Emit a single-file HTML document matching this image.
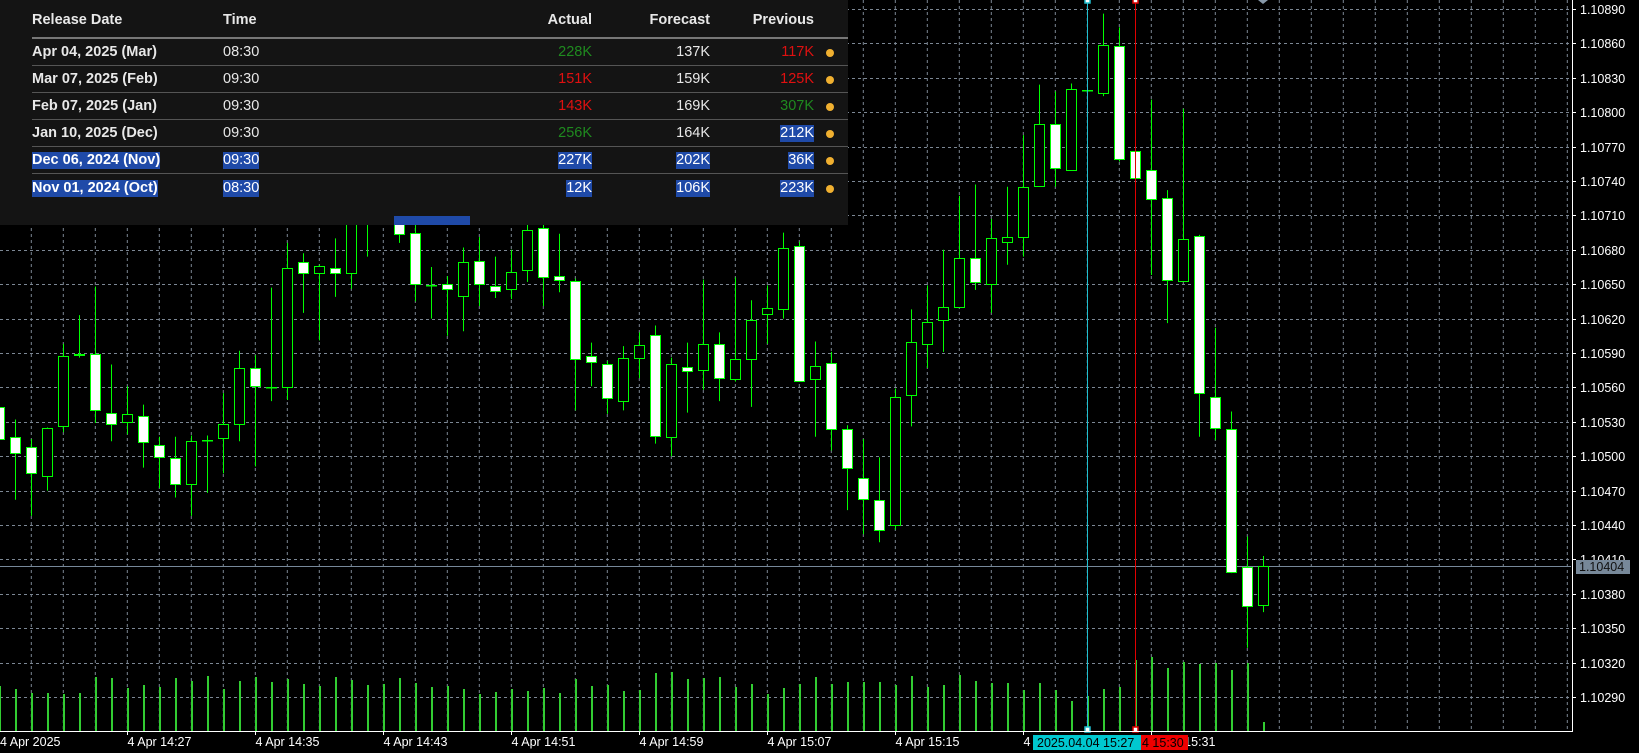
<!DOCTYPE html>
<html><head><meta charset="utf-8"><style>
html,body{margin:0;padding:0;background:#000;width:1639px;height:753px;overflow:hidden}
#wrap{position:relative;width:1639px;height:753px;font-family:"Liberation Sans",sans-serif}
#chart{position:absolute;left:0;top:0}
#panel{position:absolute;left:0;top:0;width:848px;height:225px;background:#141414;color:#e8e8e8;font-size:14.5px}
.c{position:absolute;white-space:nowrap;line-height:17px}
.h{font-weight:bold;top:12px}
.b{font-weight:bold}
.r{text-align:right}
.sel{background:#1f4aa8;color:#fff}
.g{color:#1f8a1f}.rd{color:#e01010}
.dot{position:absolute;width:8px;height:8px;border-radius:50%;background:#f0b030}
.sep{position:absolute;left:32px;width:816px;height:1px;background:#555}
</style></head><body>
<div id="wrap">
<svg id="chart" width="1639" height="753"></svg>
<div id="panel">
  <div class="c h" style="left:32px">Release Date</div>
  <div class="c h" style="left:223px">Time</div>
  <div class="c h r" style="right:256px">Actual</div>
  <div class="c h r" style="right:138px">Forecast</div>
  <div class="c h r" style="right:34px">Previous</div>
  <div class="sep" style="top:37px;height:2px;background:#777"></div>

  <div>
  <div class="c b" style="left:32px;top:44px">Apr 04, 2025 (Mar)</div><div class="c" style="left:223px;top:44px">08:30</div>
  <div class="c r g" style="right:256px;top:44px">228K</div><div class="c r" style="right:138px;top:44px">137K</div><div class="c r rd" style="right:34px;top:44px">117K</div>
  <div class="dot" style="left:826px;top:49px"></div></div>
  <div class="sep" style="top:65px"></div>

  <div>
  <div class="c b" style="left:32px;top:71px">Mar 07, 2025 (Feb)</div><div class="c" style="left:223px;top:71px">09:30</div>
  <div class="c r rd" style="right:256px;top:71px">151K</div><div class="c r" style="right:138px;top:71px">159K</div><div class="c r rd" style="right:34px;top:71px">125K</div>
  <div class="dot" style="left:826px;top:76px"></div></div>
  <div class="sep" style="top:92px"></div>

  <div>
  <div class="c b" style="left:32px;top:98px">Feb 07, 2025 (Jan)</div><div class="c" style="left:223px;top:98px">09:30</div>
  <div class="c r rd" style="right:256px;top:98px">143K</div><div class="c r" style="right:138px;top:98px">169K</div><div class="c r g" style="right:34px;top:98px">307K</div>
  <div class="dot" style="left:826px;top:103px"></div></div>
  <div class="sep" style="top:119px"></div>

  <div>
  <div class="c b" style="left:32px;top:125px">Jan 10, 2025 (Dec)</div><div class="c" style="left:223px;top:125px">09:30</div>
  <div class="c r g" style="right:256px;top:125px">256K</div><div class="c r" style="right:138px;top:125px">164K</div><div class="c r sel" style="right:34px;top:125px">212K</div>
  <div class="dot" style="left:826px;top:130px"></div></div>
  <div class="sep" style="top:146px"></div>

  <div>
  <div class="c b sel" style="left:32px;top:152px">Dec 06, 2024 (Nov)</div><div class="c sel" style="left:223px;top:152px">09:30</div>
  <div class="c r sel" style="right:256px;top:152px">227K</div><div class="c r sel" style="right:138px;top:152px">202K</div><div class="c r sel" style="right:34px;top:152px">36K</div>
  <div class="dot" style="left:826px;top:157px"></div></div>
  <div class="sep" style="top:173px"></div>

  <div>
  <div class="c b sel" style="left:32px;top:180px">Nov 01, 2024 (Oct)</div><div class="c sel" style="left:223px;top:180px">08:30</div>
  <div class="c r sel" style="right:256px;top:180px">12K</div><div class="c r sel" style="right:138px;top:180px">106K</div><div class="c r sel" style="right:34px;top:180px">223K</div>
  <div class="dot" style="left:826px;top:185px"></div></div>
</div>
<div style="position:absolute;left:394px;top:216px;width:76px;height:9px;background:#1f4aa8"></div>
</div>
<script>
const opens =[543,517,508,483,526,588,589,538,530,535,510,498,476,514,516,528,577,560,560,669,660,664,660,718,730,710,695,649,650,640,670,648,646,662,699,657,653,587,580,548,586,606,517,578,575,598,567,585,624,628,683,567,581,524,481,462,440,553,598,619,630,673,650,687,691,736,790,750,819,817,858,766,750,725,653,692,552,524,403,370];
const highs =[547,532,515,525,598,623,648,580,561,545,517,517,518,518,555,592,588,647,686,677,667,690,712,730,745,715,705,665,657,682,691,674,680,705,710,694,655,599,583,596,608,614,586,599,654,608,656,636,649,695,687,600,591,527,515,499,559,628,649,680,727,737,707,735,780,824,818,825,820,886,874,767,811,732,803,693,612,539,430,413];
const lows  =[510,462,448,470,521,586,529,513,519,490,472,464,448,468,485,513,491,548,549,625,601,639,646,674,715,686,635,620,605,609,631,638,637,652,631,643,540,561,537,540,568,511,500,538,558,548,565,543,598,620,565,517,505,453,432,425,436,526,577,591,630,645,625,667,674,736,735,749,818,814,757,741,658,616,652,517,514,398,333,364];
const closes=[515,503,485,525,587,589,540,528,537,512,499,476,513,514,528,577,561,560,664,660,666,660,705,724,735,694,650,649,646,669,650,644,661,697,656,654,585,582,551,586,597,518,580,574,598,568,585,619,629,682,566,579,524,490,463,436,552,600,617,630,673,652,690,691,735,790,751,820,819,859,759,743,724,654,689,555,525,399,369,404];
const volumes=[45,42,38,38,37,38,54,53,43,46,44,53,50,55,42,50,54,49,52,47,45,54,51,46,47,53,48,44,45,42,37,39,42,40,43,38,52,45,46,40,41,58,59,52,53,54,44,47,37,43,47,54,47,49,49,49,46,55,44,46,56,50,48,48,41,48,41,30,35,42,44,71,74,63,69,67,68,61,68,9];
const priceTicks=[290,320,350,380,410,440,470,500,530,560,590,620,650,680,710,740,770,800,830,860,890];
const timeLabels=[[0,"4 Apr 2025"],[8,"4 Apr 14:27"],[16,"4 Apr 14:35"],[24,"4 Apr 14:43"],[32,"4 Apr 14:51"],[40,"4 Apr 14:59"],[48,"4 Apr 15:07"],[56,"4 Apr 15:15"],[64,"4 Apr 15:23"],[72,"4 Apr 15:31"]];
const currentPrice=404;

const NS="http://www.w3.org/2000/svg";
const svg=document.getElementById('chart');
const PR=1571, PB=731;
function X(i){return 16*i-0.7;}
function Y(p){return 525-(p-440)*34.4/30;}
function mk(t,a,parent){const e=document.createElementNS(NS,t);for(const k in a)e.setAttribute(k,a[k]);(parent||svg).appendChild(e);return e;}
const clip=mk('clipPath',{id:'cl'});mk('rect',{x:0,y:0,width:PR,height:PB},clip);
const g=mk('g',{'clip-path':'url(#cl)'});


// grid
for(let k=0;k<50;k++){const x=31.3+32*k;if(x>PR)break;
 const l=mk('line',{x1:x,y1:0,x2:x,y2:PB,stroke:'#7c8794','stroke-width':1,'stroke-dasharray':'3,3'},g);
 
 }
priceTicks.forEach(p=>{const y=Math.round(Y(p))+0.5;
 const l=mk('line',{x1:0,y1:y,x2:PR,y2:y,stroke:'#7c8794','stroke-width':1,'stroke-dasharray':'3,3'},g);
 
 });
// volumes
volumes.forEach((v,i)=>{const x=Math.round(X(i));
 const r=mk('rect',{x:x,y:PB-v,width:2,height:v,fill:'#32cd32'},g);
 
 });
// current price line
const cy=Math.round(Y(currentPrice))+0.5;
const cl=mk('line',{x1:0,y1:cy,x2:PR,y2:cy,stroke:'#778899','stroke-width':1},g);


// candles
opens.forEach((o,i)=>{const c=closes[i],x=Math.round(X(i))+0.5;
 const w=mk('line',{x1:x,y1:Y(highs[i]),x2:x,y2:Y(lows[i]),stroke:'#00ff00','stroke-width':1},g);
 
 
 const top=Math.round(Y(Math.max(o,c)))+0.5,bot=Math.round(Y(Math.min(o,c)))+0.5;
 const r=mk('rect',{x:x-5,y:top,width:10,height:Math.max(bot-top,0.5),fill:c>=o?'#000':'#fff',stroke:'#00ff00','stroke-width':1},g);
 
 });
// vertical markers
[[68,'#20c0d0'],[71,'#e00000']].forEach(([i,col])=>{const x=Math.round(X(i))+0.5;
 const l=mk('line',{x1:x,y1:0,x2:x,y2:PB,stroke:col,'stroke-width':1});
 
 
 mk('rect',{x:x-2.5,y:-2,width:5,height:5,fill:'#fff',stroke:col,'stroke-width':1.5});
 mk('rect',{x:x-2.5,y:PB-4,width:5,height:5,fill:'#fff',stroke:col,'stroke-width':1.5});});
mk('path',{d:'M1258 0 L1268 0 L1263 4 Z',fill:'#8899aa'});
// axes
const ax=mk('path',{d:`M0 ${PB+0.5} H${PR+1.5} V0`,stroke:'#fff','stroke-width':1,fill:'none'});


priceTicks.forEach(p=>{const y=Math.round(Y(p))+0.5;
 mk('line',{x1:PR+1,y1:y,x2:PR+5,y2:y,stroke:'#fff'});
 const t=mk('text',{x:1580,y:y+4.5,fill:'#fff','font-size':'12.5px','font-family':'Liberation Sans, sans-serif'});
 t.textContent='1.10'+String(p).padStart(3,'0');
 
 });
timeLabels.forEach(([i,s])=>{const x=Math.round(X(i))+0.5;
 mk('line',{x1:x,y1:PB,x2:x,y2:PB+4,stroke:'#fff'});
 const t=mk('text',{x:Math.max(x,0),y:746,fill:'#fff','font-size':'12.5px','font-family':'Liberation Sans, sans-serif'});
 t.textContent=s;
 
 });
// current price label
const pb=mk('rect',{x:1576,y:cy-6.5,width:54,height:14,fill:'#778899'});


const pt=mk('text',{x:1579,y:cy+4.5,fill:'#111','font-size':'12.5px','font-family':'Liberation Sans, sans-serif'});
pt.textContent='1.10'+String(currentPrice).padStart(3,'0');
// marker time labels
const b1=mk('rect',{x:1033,y:735,width:108,height:15,fill:'#00c8d0'});


const t1=mk('text',{x:1037,y:747,fill:'#000','font-size':'12.5px','font-family':'Liberation Sans, sans-serif'});t1.textContent='2025.04.04 15:27';
const b2=mk('rect',{x:1141,y:735,width:47,height:15,fill:'#ee0000'});


const t2=mk('text',{x:1142,y:747,fill:'#000','font-size':'12.5px','font-family':'Liberation Sans, sans-serif'});t2.textContent='4 15:30';
</script>
</body></html>
